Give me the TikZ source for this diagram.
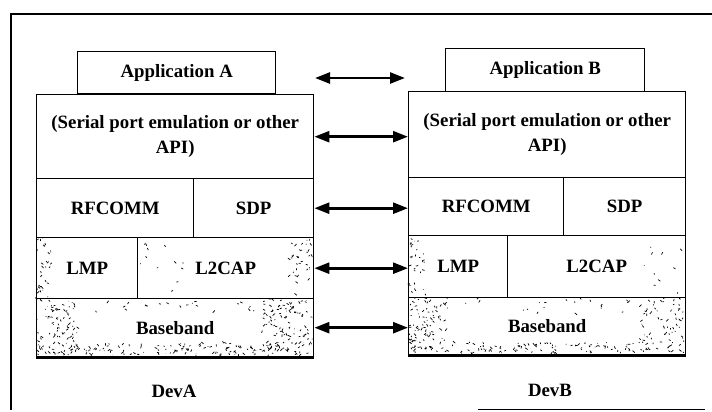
\documentclass[tikz,border=0pt]{standalone}
\usepackage{fontspec}
\setmainfont{Liberation Serif}
\usetikzlibrary{arrows.meta}
\tikzset{
  layer/.style={draw, line width=1.4pt, anchor=north west, inner sep=0pt,
    font=\bfseries\fontsize{18.8}{25}\selectfont, align=center},
  darr/.style={line width=2.6pt, {Triangle[length=15pt,width=11pt]}-{Triangle[length=15pt,width=11pt]}},
  speck/.style={line width=0.7pt},
  lbl/.style={font=\bfseries\fontsize{18.8}{25}\selectfont},
  frame/.style={line width=1.4pt}
}
\newcommand\mySpecks[5]{%
  \foreach \i in {1,...,#5}{\draw[speck] ({#1+#3*rnd},{#2+#4*rnd}) -- ++({5*rnd-2.5},{5*rnd-2.5});}}
\begin{document}
\begin{tikzpicture}[x=1pt,y=-1pt]
\useasboundingbox (0,0) rectangle (712,412);
\pgfmathsetseed{1234}
% frame
\draw[frame] (11,410) -- (11,14) -- (712,14);
\draw[line width=0.8pt] (478,409) -- (705,409);

% texture A
\mySpecks{37}{299}{40}{56}{90}
\mySpecks{262}{299}{50}{56}{100}
\mySpecks{37}{343}{275}{12}{150}
\mySpecks{90}{300}{170}{14}{20}
\mySpecks{37}{238}{16}{59}{30}
\mySpecks{288}{238}{24}{59}{35}
\mySpecks{140}{240}{60}{55}{12}
% texture B
\mySpecks{409}{298}{40}{55}{90}
\mySpecks{640}{298}{44}{55}{60}
\mySpecks{409}{342}{275}{11}{120}
\mySpecks{460}{299}{170}{14}{20}
\mySpecks{409}{236}{16}{60}{30}
\mySpecks{640}{236}{44}{60}{10}

% Device A
\node[layer, minimum width=198pt, minimum height=42pt] (appA) at (77,51) {Application A};
\node[layer, minimum width=277pt, minimum height=84pt] (serA) at (36,94) {(Serial port emulation or other\\API)};
\node[layer, minimum width=157pt, minimum height=59pt] (rfA) at (36,178) {RFCOMM};
\node[layer, minimum width=120pt, minimum height=59pt] (sdpA) at (193,178) {SDP};
\node[layer, minimum width=101pt, minimum height=61pt] (lmpA) at (36,237) {LMP};
\node[layer, minimum width=176pt, minimum height=61pt] (l2A) at (137,237) {L2CAP};
\node[layer, minimum width=277pt, minimum height=58pt] (bbA) at (36,298) {Baseband};
\draw[line width=2.5pt] (bbA.south west) -- (bbA.south east);
\node[lbl] (devA) at (174,391) {DevA};

% Device B
\node[layer, minimum width=199pt, minimum height=43pt] (appB) at (445,48) {Application B};
\node[layer, minimum width=277pt, minimum height=86pt] (serB) at (408,91) {(Serial port emulation or other\\API)};
\node[layer, minimum width=155pt, minimum height=58pt] (rfB) at (408,177) {RFCOMM};
\node[layer, minimum width=122pt, minimum height=58pt] (sdpB) at (563,177) {SDP};
\node[layer, minimum width=99pt, minimum height=62pt] (lmpB) at (408,235) {LMP};
\node[layer, minimum width=178pt, minimum height=62pt] (l2B) at (507,235) {L2CAP};
\node[layer, minimum width=277pt, minimum height=57pt] (bbB) at (408,297) {Baseband};
\draw[line width=2.5pt] (bbB.south west) -- (bbB.south east);
\node[lbl] (devB) at (550,390) {DevB};

% arrows
\coordinate (p1) at (315,78);
\coordinate (p2) at (405,78);
\draw[darr] (p1) -- (p2);
\draw[darr] (serA.east) -- (serA.east -| serB.west);
\draw[darr] (sdpA.east) -- (sdpA.east -| rfB.west);
\draw[darr] (l2A.east) -- (l2A.east -| lmpB.west);
\draw[darr] (bbA.east) -- (bbA.east -| bbB.west);
\end{tikzpicture}
\end{document}
